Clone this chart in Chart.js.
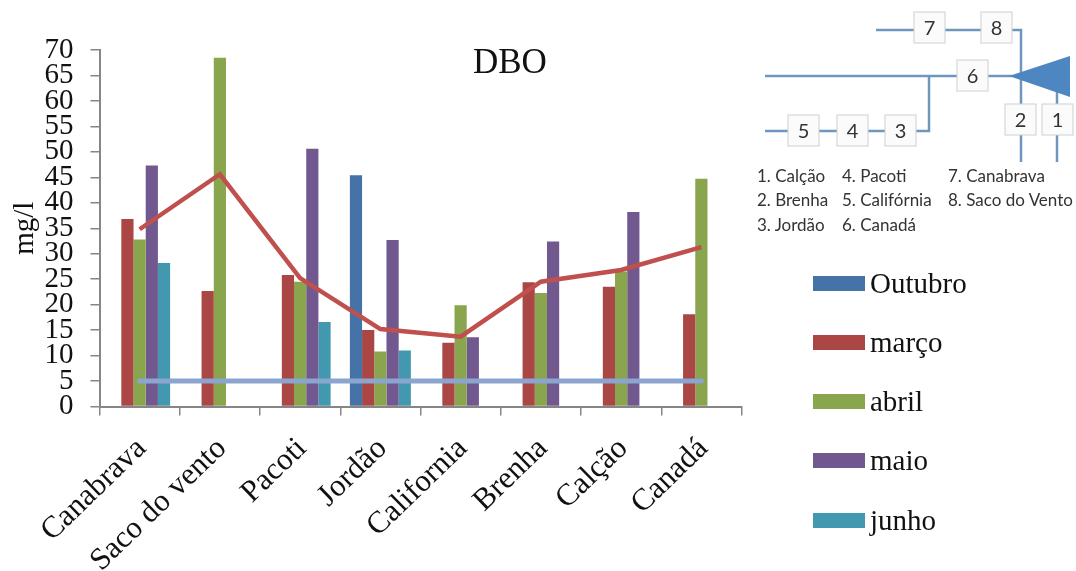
<!DOCTYPE html>
<html lang="pt">
<head>
<meta charset="utf-8">
<title>DBO</title>
<script src="https://cdn.jsdelivr.net/npm/chart.js@4"></script>
<style>
  html, body { margin: 0; padding: 0; background: #fff; }
  #page { position: relative; width: 1076px; height: 571px; overflow: hidden; font-family: "Liberation Serif", serif; color: #111; }
  #grafico { position: absolute; left: 0; top: 0; }
  #titulo { position: absolute; left: 473px; top: 42px; font-size: 35px; line-height: 40px; }
  .leg { position: absolute; left: 813px; height: 30px; font-size: 29px; line-height: 30px; white-space: nowrap; }
  .leg i { position: absolute; left: 0; top: 8px; width: 52px; height: 15px; }
  .leg span { position: absolute; left: 57px; top: 0; }
  #esquema { position: absolute; left: 750px; top: 0; filter: blur(0.5px); }
  #esquema text { font-family: Lato, "Open Sans", sans-serif; fill: #333; }
</style>
</head>
<body>
<div id="page">
  <canvas id="grafico" width="1076" height="571"></canvas>
  <div id="titulo">DBO</div>
  <div id="legenda"></div>
  <svg id="esquema" width="326" height="250" viewBox="750 0 326 250">
    <g fill="none" stroke="#6f97bd" stroke-width="2.5">
      <path d="M876 30H1021V162"/>
      <path d="M765 76H1012"/>
      <path d="M765 131H929V76"/>
      <path d="M1057 90V162"/>
    </g>
    <polygon points="1009,76 1070,56 1070,97" fill="#4d86c0"/>
    <g id="caixas"></g>
    <g id="nomes" font-size="17"></g>
  </svg>
</div>
<script>
const categorias = ["Canabrava", "Saco do vento", "Pacoti", "Jordão", "California", "Brenha", "Calção", "Canadá"];
const outubro = [null, null, null, 45.4, null, null, null, null];
const marco = [36.8, 22.7, 25.8, 15, 12.5, 24.4, 23.5, 18.1];
const abril = [32.8, 68.5, 24.5, 10.8, 19.9, 22.3, 26.5, 44.7];
const maio = [47.3, null, 50.6, 32.7, 13.6, 32.4, 38.2, null];
const junho = [28.2, null, 16.6, 11, null, null, null, null];
const media = [34.8, 45.6, 25.2, 15.2, 13.7, 24.5, 26.8, 31.3];
const limite = [5, 5, 5, 5, 5, 5, 5, 5];

const nomesSeries = ["Outubro", "março", "abril", "maio", "junho"];
const coresSeries = ["#4572a7", "#aa4643", "#89a54e", "#71588f", "#4198af"];
const valoresSeries = [outubro, marco, abril, maio, junho];

// legenda fora do canvas, ao lado do gráfico
const topoLegenda = [268, 327, 386, 445, 505];
const legenda = document.getElementById("legenda");
nomesSeries.forEach((nome, i) => {
  legenda.innerHTML += `<div class="leg" style="top:${topoLegenda[i]}px"><i style="background:${coresSeries[i]}"></i><span>${nome}</span></div>`;
});

// esquema da bacia: caixas numeradas e lista de nomes
const caixas = [
  ["7", 914, 12], ["8", 981, 12], ["6", 957, 60],
  ["5", 788, 115], ["4", 837, 115], ["3", 885, 115],
  ["2", 1005, 104], ["1", 1042, 104]
];
const nomesBacia = [
  ["1. Calção", 757, 182], ["2. Brenha", 757, 206], ["3. Jordão", 757, 231],
  ["4. Pacoti", 842, 182], ["5. Califórnia", 842, 206], ["6. Canadá", 842, 231],
  ["7. Canabrava", 948, 182], ["8. Saco do Vento", 948, 206]
];
document.getElementById("caixas").innerHTML = caixas.map(c => `
  <rect x="${c[1]}" y="${c[2]}" width="31" height="31" fill="#fbfbfb" stroke="#cfcfcf"/>
  <text x="${c[1] + 15.5}" y="${c[2] + 23}" font-size="20" text-anchor="middle">${c[0]}</text>`).join("");
document.getElementById("nomes").innerHTML = nomesBacia.map(n =>
  `<text x="${n[1]}" y="${n[2]}">${n[0]}</text>`).join("");

const corTexto = "#111";
const corEixo = "#868686";

const barras = nomesSeries.map((nome, i) => ({
  label: nome,
  data: valoresSeries[i],
  backgroundColor: coresSeries[i],
  categoryPercentage: 0.76,
  barPercentage: 1,
  order: 2
}));

new Chart(document.getElementById("grafico"), {
  type: "bar",
  data: {
    labels: categorias,
    datasets: [
      ...barras,
      { type: "line", label: "média", data: media, borderColor: "#c0504d", borderWidth: 4.5, pointRadius: 0, tension: 0, order: 1 },
      { type: "line", label: "limite", data: limite, borderColor: "#8ba5cf", borderWidth: 5, borderCapStyle: "round", pointRadius: 0, tension: 0, order: 0 }
    ]
  },
  options: {
    responsive: false,
    animation: false,
    layout: { padding: { top: 50, right: 334.5 } },
    plugins: { legend: { display: false }, title: { display: false }, tooltip: { enabled: false } },
    scales: {
      x: {
        grid: { drawOnChartArea: false, drawTicks: true, tickLength: 9, color: corEixo, lineWidth: 1.5 },
        border: { color: corEixo, width: 2 },
        ticks: { color: corTexto, font: { family: "'Liberation Serif', serif", size: 31 }, minRotation: 44, maxRotation: 44, autoSkip: false, padding: 15, labelOffset: 2 },
        afterFit: s => { s.height = 164.5; }
      },
      y: {
        min: 0,
        max: 70,
        grid: { drawOnChartArea: false, drawTicks: true, tickLength: 9, color: corEixo, lineWidth: 1.5 },
        border: { color: corEixo, width: 2 },
        ticks: { stepSize: 5, color: corTexto, font: { family: "'Liberation Serif', serif", size: 29 }, autoSkip: false, padding: 17 },
        title: { display: true, text: "mg/l", color: corTexto, font: { family: "'Liberation Serif', serif", size: 29 }, padding: { top: 8, bottom: 0 } },
        afterFit: s => { s.width = 99.5; }
      }
    }
  }
});
</script>
</body>
</html>
